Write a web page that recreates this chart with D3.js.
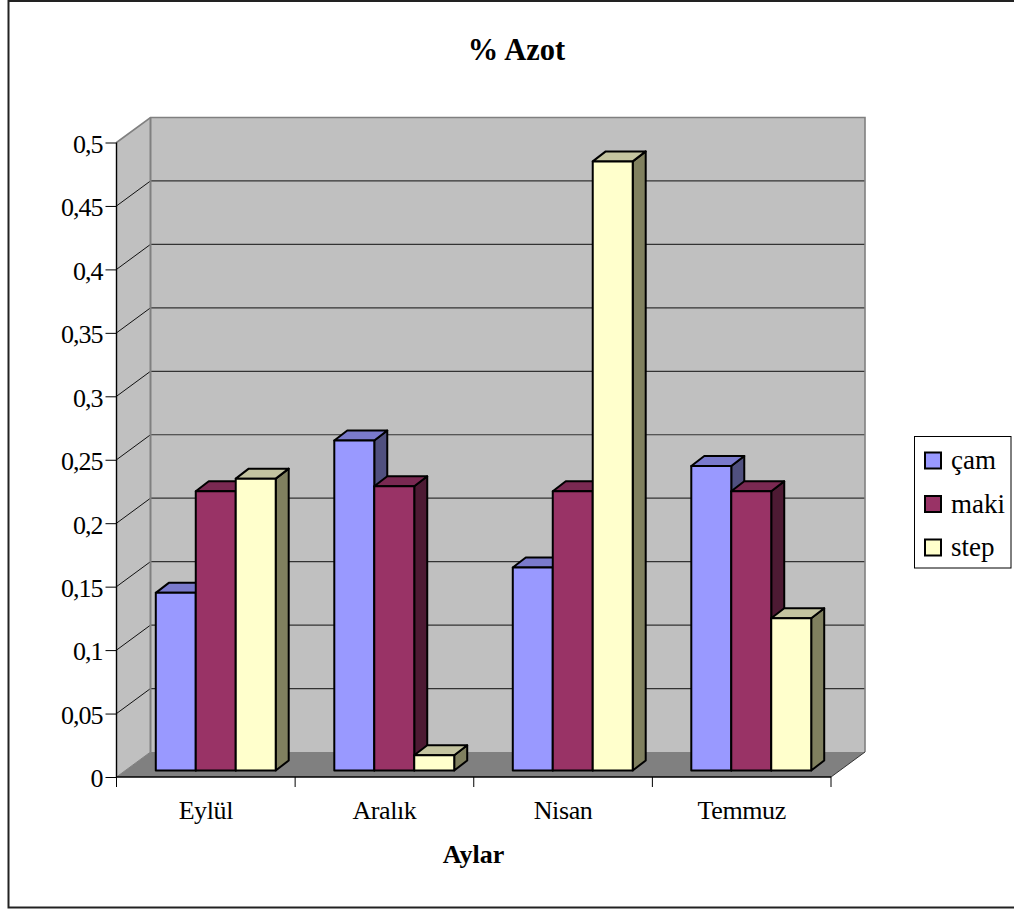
<!DOCTYPE html>
<html><head><meta charset="utf-8">
<script src="https://cdn.jsdelivr.net/npm/d3@7/dist/d3.min.js"></script>
<style>
html,body{margin:0;padding:0;background:#fff;overflow:hidden}
svg{display:block}
text{font-family:"Liberation Serif",serif;fill:#000}
</style></head><body><svg id="c" width="1014" height="911"></svg>
<script>
const categories = ["Eylül","Aralık","Nisan","Temmuz"];
const seriesNames = ["çam","maki","step"];
const camValues = [0.14,0.26,0.16,0.24];
const makiValues = [0.22,0.224,0.22,0.22];
const stepValues = [0.23,0.012,0.48,0.12];
const yTicks = [0,0.05,0.1,0.15,0.2,0.25,0.3,0.35,0.4,0.45,0.5];
const seriesValues = [camValues,makiValues,stepValues];
const colors = {front:["#9999ff","#993366","#ffffcc"],top:["#7a7acc","#7a2952","#c4c4a0"],side:["#50507f","#4d1a33","#80805f"]};

const svg = d3.select("#c");
const L=116.5,R=831,T=142.5,B=777,DX=34,DY=-25,bdx=13,bdy=-10,barBase=6.5;
const y = d3.scaleLinear().domain([0,0.5]).range([B,T]);
const x = d3.scaleBand().domain(categories).range([L,R]);
const inner = 120/x.step();
const xBars = d3.scaleBand().domain(categories).range([L+10,R+9.5]).paddingInner(1-inner).paddingOuter((1-inner)/2);
const xS = d3.scaleBand().domain(d3.range(3)).range([0,xBars.bandwidth()]);
const pts = a=>a.map(p=>p.join(",")).join(" ");

// chart frame (right edge runs off the page)
svg.append("rect").attr("x",8.5).attr("y",1).attr("width",1010).attr("height",906.5).attr("fill","#fff").attr("stroke","#222").attr("stroke-width",2);
// walls
svg.append("polygon").attr("points",pts([[L+DX,T+DY],[R+DX,T+DY],[R+DX,B+DY],[L+DX,B+DY]])).attr("fill","#c0c0c0");
svg.append("polygon").attr("points",pts([[L,T],[L+DX,T+DY],[L+DX,B+DY],[L,B]])).attr("fill","#c0c0c0");
svg.append("polygon").attr("points",pts([[L,B],[L+DX,B+DY],[R+DX,B+DY],[R,B]])).attr("fill","#808080");
// gridlines
yTicks.slice(1,-1).forEach(v=>{
  svg.append("line").attr("x1",L).attr("y1",y(v)).attr("x2",L+DX).attr("y2",y(v)+DY).attr("stroke","#111").attr("stroke-width",1);
  svg.append("line").attr("x1",L+DX).attr("y1",y(v)+DY).attr("x2",R+DX).attr("y2",y(v)+DY).attr("stroke","#333").attr("stroke-width",1.2);
});
// wall edges
svg.append("polyline").attr("points",pts([[L,T],[L+DX,T+DY],[R+DX,T+DY],[R+DX,B+DY]])).attr("fill","none").attr("stroke","#808080").attr("stroke-width",1.6);
svg.append("line").attr("x1",L+DX).attr("y1",T+DY).attr("x2",L+DX).attr("y2",B+DY).attr("stroke","#808080").attr("stroke-width",2);
svg.append("line").attr("x1",L).attr("y1",B).attr("x2",L+DX).attr("y2",B+DY).attr("stroke","#808080").attr("stroke-width",1);
svg.append("polyline").attr("points",pts([[R,B],[R+DX,B+DY]])).attr("stroke","#333").attr("fill","none");

// bars
categories.forEach((c,i)=>{
  seriesValues.forEach((vals,s)=>{
    const x0=xBars(c)+xS(s),w=xS.bandwidth(),x1=x0+w,yb=y(0)-barBase,yt=y(vals[i])-barBase;
    const g=svg.append("g").attr("stroke","#000").attr("stroke-width",2).attr("stroke-linejoin","round");
    g.append("polygon").attr("points",pts([[x1,yt],[x1+bdx,yt+bdy],[x1+bdx,yb+bdy],[x1,yb]])).attr("fill",colors.side[s]);
    g.append("polygon").attr("points",pts([[x0,yt],[x0+bdx,yt+bdy],[x1+bdx,yt+bdy],[x1,yt]])).attr("fill",colors.top[s]);
    g.append("rect").attr("x",x0).attr("y",yt).attr("width",w).attr("height",yb-yt).attr("fill",colors.front[s]);
  });
});

// axes
const fmt=v=>String(v).replace(".",",");
const yAxis=svg.append("g").attr("transform",`translate(${L},0)`).call(d3.axisLeft(y).tickValues(yTicks).tickFormat(fmt).tickSize(11).tickPadding(3));
yAxis.select(".domain").attr("stroke-width",1.4).attr("d",`M0,${T}V${B}`);
yAxis.selectAll("text").attr("font-size",26).attr("letter-spacing",-1).attr("font-family","Liberation Serif").attr("fill","#000").attr("dy","0.38em");
const xAxis=svg.append("g").attr("transform",`translate(0,${B})`).call(d3.axisBottom(x).tickSize(0).tickPadding(23.5));
xAxis.select(".domain").attr("stroke-width",1.4).attr("d",`M${L},0H${R}`);
xAxis.selectAll("text").attr("font-size",26).attr("letter-spacing",-0.4).attr("font-family","Liberation Serif").attr("fill","#000").attr("dy","0.71em");
xAxis.selectAll(".bound").data(d3.range(categories.length+1)).enter().append("line").attr("class","bound")
  .attr("x1",i=>L+i*x.step()).attr("x2",i=>L+i*x.step()).attr("y1",0).attr("y2",10).attr("stroke","#000");

// titles
svg.append("text").attr("x",516.5).attr("y",60).attr("text-anchor","middle").attr("font-size",30.5).attr("font-weight","bold").text("% Azot");
svg.append("text").attr("x",473.5).attr("y",863).attr("text-anchor","middle").attr("font-size",26).attr("font-weight","bold").text("Aylar");

// legend
const lg=svg.append("g").attr("transform","translate(914,436)");
lg.append("rect").attr("x",0.5).attr("y",0.5).attr("width",96.5).attr("height",131.5).attr("fill","#fff").attr("stroke","#000");
seriesNames.forEach((n,i)=>{
  const yy=24.5+i*43.5;
  lg.append("rect").attr("x",11).attr("y",yy-8).attr("width",16).attr("height",16).attr("fill",colors.front[i]).attr("stroke","#000").attr("stroke-width",2);
  lg.append("text").attr("x",37).attr("y",yy+8.5).attr("font-size",27).text(n);
});
</script></body></html>
